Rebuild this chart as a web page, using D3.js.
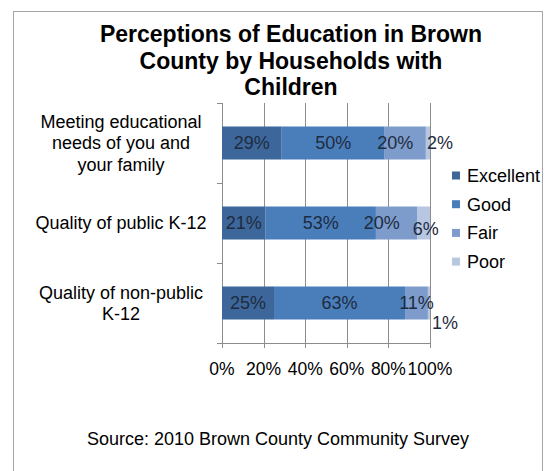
<!DOCTYPE html>
<html>
<head>
<meta charset="utf-8">
<script src="https://cdn.jsdelivr.net/npm/d3@7/dist/d3.min.js"></script>
<style>
  html, body { margin: 0; padding: 0; background: #ffffff; }
  svg { display: block; font-family: "Liberation Sans", Arial, sans-serif; }
</style>
</head>
<body>
<svg id="chart" width="546" height="471"></svg>
<script>
// ---- data ----
const titleLines = ["Perceptions of Education in Brown", "County by Households with", "Children"];
const categories = ["Meeting educational needs of you and your family", "Quality of public K-12", "Quality of non-public K-12"];
const categoryLines = [["Meeting educational", "needs of you and", "your family"], ["Quality of public K-12"], ["Quality of non-public", "K-12"]];
const seriesNames = ["Excellent", "Good", "Fair", "Poor"];
const excellent = [29, 21, 25];
const good = [50, 53, 63];
const fair = [20, 20, 11];
const poor = [2, 6, 1];
const tickValues = [0, 0.2, 0.4, 0.6, 0.8, 1.0];
const sourceText = "Source: 2010 Brown County Community Survey";

// ---- styles ----
const colors = ["#3D679A", "#4A7EBB", "#7D9BCB", "#B7C7E1"];
// label nudges (px) per [category][series] for crowded segments
const nudges = {
  "0-2": [-10, 0], "0-3": [12, 0],
  "1-2": [-15, 0], "1-3": [2, 6],
  "2-3": [16, 20]
};

const svg = d3.select("#chart");
const X0 = 222, X1 = 430, Y0 = 103, Y1 = 343;

// border
svg.append("rect").attr("x", 13.5).attr("y", 11.5).attr("width", 529).attr("height", 490)
  .attr("fill", "#fff").attr("stroke", "#a6a6a6").attr("stroke-width", 1);

// title
const title = svg.append("text").attr("text-anchor", "middle")
  .attr("font-weight", "bold").attr("font-size", 23).attr("fill", "#000");
titleLines.forEach((t, i) => {
  title.append("tspan").attr("x", 291).attr("y", 42 + i * 26.5).text(t);
});

// build stacked, normalised rows
const seriesVals = [excellent, good, fair, poor];
const rows = categories.map((c, i) => {
  const obj = { cat: c, idx: i };
  seriesNames.forEach((s, j) => obj[s] = seriesVals[j][i]);
  return obj;
});
const stack = d3.stack().keys(seriesNames).offset(d3.stackOffsetExpand);
const stacked = stack(rows);

const x = d3.scaleLinear().domain([0, 1]).range([X0, X1]);
const y = d3.scaleBand().domain(categories).range([Y0, Y1]).paddingInner(0.5875).paddingOuter(0.29375);

// gridlines
svg.append("g").selectAll("line").data(tickValues).join("line")
  .attr("x1", d => Math.round(x(d)) + 0.5).attr("x2", d => Math.round(x(d)) + 0.5)
  .attr("y1", Y0).attr("y2", Y1 + 5)
  .attr("stroke", "#8c8c8c").attr("stroke-width", 1);

// bottom axis line
svg.append("line").attr("x1", X0).attr("x2", X1 + 1).attr("y1", Y1 + 0.5).attr("y2", Y1 + 0.5)
  .attr("stroke", "#8c8c8c");

// category axis ticks
const step = y.step();
const catTicks = d3.range(categories.length + 1).map(i => Y0 + i * step);
svg.append("g").selectAll("line").data(catTicks).join("line")
  .attr("x1", X0 - 5).attr("x2", X0).attr("y1", d => Math.round(d) + 0.5).attr("y2", d => Math.round(d) + 0.5)
  .attr("stroke", "#8c8c8c");

// bars
const g = svg.append("g");
stacked.forEach((layer, j) => {
  g.selectAll(null).data(layer).join("rect")
    .attr("x", d => x(d[0]))
    .attr("width", d => x(d[1]) - x(d[0]))
    .attr("y", d => y(d.data.cat))
    .attr("height", y.bandwidth())
    .attr("fill", colors[j]);
});

// x tick labels
svg.append("g").selectAll("text").data(tickValues).join("text")
  .attr("x", d => x(d)).attr("y", 375).attr("text-anchor", "middle")
  .attr("font-size", 17.5).attr("fill", "#000")
  .text(d => d3.format(".0%")(d));

// data labels
stacked.forEach((layer, j) => {
  layer.forEach((d, i) => {
    const n = nudges[i + "-" + j] || [0, 0];
    svg.append("text")
      .attr("x", (x(d[0]) + x(d[1])) / 2 + n[0])
      .attr("y", y(d.data.cat) + y.bandwidth() / 2 + n[1])
      .attr("dy", "0.35em").attr("text-anchor", "middle")
      .attr("font-size", 18).attr("fill", "#1e2b40")
      .text(seriesVals[j][i] + "%");
  });
});

// category labels
categoryLines.forEach((lines, i) => {
  const cy = y(categories[i]) + y.bandwidth() / 2;
  const lh = 21.5;
  const t = svg.append("text").attr("text-anchor", "middle").attr("font-size", 18).attr("fill", "#000");
  lines.forEach((l, k) => {
    t.append("tspan").attr("x", 121)
      .attr("y", cy + (k - (lines.length - 1) / 2) * lh).attr("dy", "0.35em").text(l);
  });
});

// legend
const lg = svg.append("g").selectAll("g").data(seriesNames).join("g")
  .attr("transform", (d, i) => `translate(452, ${175.5 + i * 28.7})`);
lg.append("rect").attr("x", 0).attr("y", -4).attr("width", 8).attr("height", 8)
  .attr("fill", (d, i) => colors[i]);
lg.append("text").attr("x", 15).attr("dy", "0.35em").attr("font-size", 18).attr("fill", "#000").text(d => d);

// source
svg.append("text").attr("x", 278).attr("y", 445).attr("text-anchor", "middle")
  .attr("font-size", 18).attr("fill", "#000").text(sourceText);
</script>
</body>
</html>
